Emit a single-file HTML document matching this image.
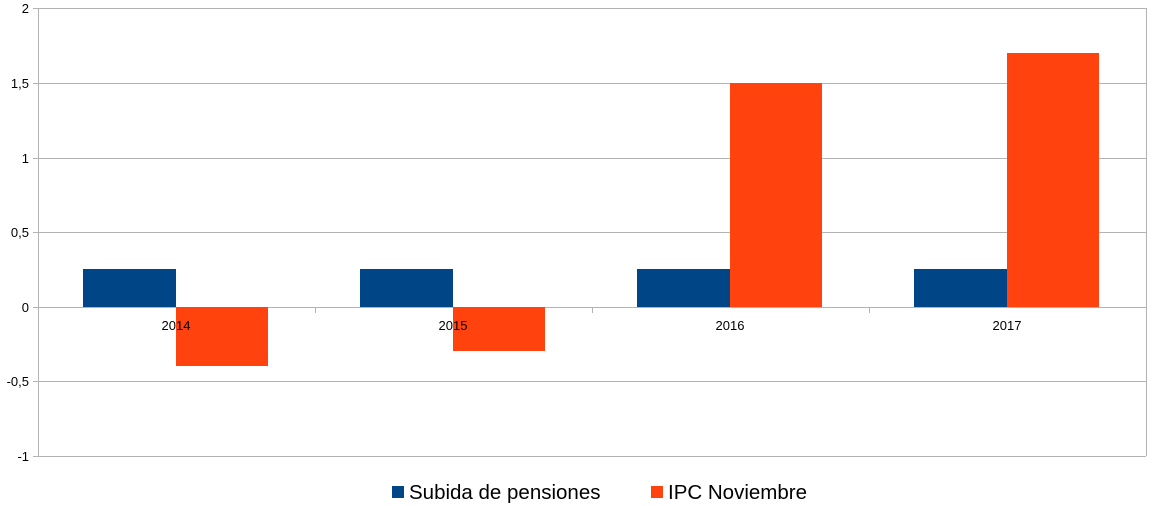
<!DOCTYPE html>
<html><head><meta charset="utf-8"><style>body{margin:0;background:#fff}svg{display:block}</style></head><body>
<svg width="1157" height="506" xmlns="http://www.w3.org/2000/svg" font-family="Liberation Sans, sans-serif">
<g stroke="#b3b3b3" stroke-width="1">
<line x1="38" y1="8.5" x2="1146" y2="8.5"/>
<line x1="38" y1="83.5" x2="1146" y2="83.5"/>
<line x1="38" y1="158.5" x2="1146" y2="158.5"/>
<line x1="38" y1="232.5" x2="1146" y2="232.5"/>
<line x1="38" y1="381.5" x2="1146" y2="381.5"/>
<line x1="38" y1="456.5" x2="1146" y2="456.5"/>
<line x1="38.5" y1="8" x2="38.5" y2="456"/>
<line x1="1146.5" y1="8" x2="1146.5" y2="456"/>
<line x1="38" y1="307.5" x2="1146" y2="307.5"/>
<line x1="315.5" y1="307" x2="315.5" y2="313"/>
<line x1="592.5" y1="307" x2="592.5" y2="313"/>
<line x1="869.5" y1="307" x2="869.5" y2="313"/>
<line x1="33" y1="8.5" x2="38" y2="8.5"/><line x1="33" y1="83.5" x2="38" y2="83.5"/><line x1="33" y1="158.5" x2="38" y2="158.5"/><line x1="33" y1="232.5" x2="38" y2="232.5"/><line x1="33" y1="307.5" x2="38" y2="307.5"/><line x1="33" y1="381.5" x2="38" y2="381.5"/><line x1="33" y1="456.5" x2="38" y2="456.5"/>
</g>
<g fill="#004586">
<rect x="83" y="269" width="93" height="38"/>
<rect x="360" y="269" width="93" height="38"/>
<rect x="637" y="269" width="93" height="38"/>
<rect x="914" y="269" width="93" height="38"/>
</g>
<g fill="#ff420e">
<rect x="176" y="307" width="92" height="59"/>
<rect x="453" y="307" width="92" height="44"/>
<rect x="730" y="83" width="92" height="224"/>
<rect x="1007" y="53" width="92" height="254"/>
</g>
<g font-size="13" fill="#000" text-anchor="end">
<text x="29" y="13">2</text><text x="29" y="88">1,5</text><text x="29" y="163">1</text><text x="29" y="237">0,5</text><text x="29" y="312">0</text><text x="29" y="386">-0,5</text><text x="29" y="461">-1</text>
</g>
<g font-size="13" fill="#000" text-anchor="middle">
<text x="176" y="330">2014</text><text x="453" y="330">2015</text><text x="730" y="330">2016</text><text x="1007" y="330">2017</text>
</g>
<rect x="392" y="486" width="12" height="12" fill="#004586"/>
<text x="409" y="499" font-size="20.5">Subida de pensiones</text>
<rect x="651" y="486" width="12" height="12" fill="#ff420e"/>
<text x="668" y="499" font-size="20.5">IPC Noviembre</text>
</svg>
</body></html>
